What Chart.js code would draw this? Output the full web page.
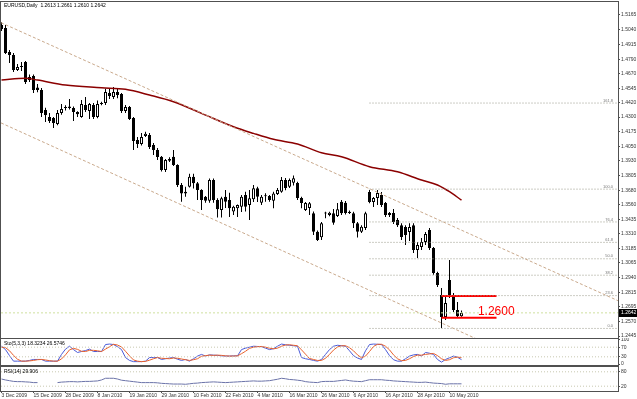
<!DOCTYPE html>
<html>
<head>
<meta charset="utf-8">
<script src="https://cdn.jsdelivr.net/npm/chart.js@4.4.1/dist/chart.umd.min.js"></script>
<style>
  html, body { margin: 0; padding: 0; background: #fff; }
  #wrap { position: relative; width: 637px; height: 399px; overflow: hidden; background: #fff; }
  canvas { position: absolute; left: 0; }
</style>
</head>
<body>
<div id="wrap">
  <canvas id="main" width="637" height="340" style="top:0"></canvas>
  <canvas id="sto" width="637" height="28" style="top:338px"></canvas>
  <canvas id="rsi" width="637" height="33" style="top:366px"></canvas>
</div>
<script>
// EURUSD daily candles, 3 Dec 2009 .. 13 May 2010 (bar index 0..115)
const opens = [1.5080,1.5055,1.4851,1.4826,1.4699,1.4724,1.4767,1.4615,1.4648,1.4550,
  1.4529,1.4360,1.4301,1.4292,1.4241,1.4335,1.4377,1.4377,1.4377,1.4343,
  1.4301,1.4402,1.4352,1.4402,1.4301,1.4419,1.4419,1.4504,1.4470,1.4512,
  1.4496,1.4352,1.4385,1.4292,1.4106,1.4072,1.4140,1.4148,1.4063,1.4021,
  1.3965,1.3852,1.3930,1.3965,1.3894,1.3724,1.3654,1.3711,1.3795,1.3739,
  1.3682,1.3626,1.3592,1.3767,1.3597,1.3513,1.3626,1.3597,1.3500,1.3528,
  1.3541,1.3640,1.3555,1.3604,1.3697,1.3575,1.3630,1.3632,1.3592,1.3648,
  1.3668,1.3767,1.3710,1.3745,1.3741,1.3614,1.3513,1.3530,1.3485,1.3330,
  1.3282,1.3483,1.3470,1.3485,1.3462,1.3584,1.3575,1.3487,1.3485,1.3402,
  1.3330,1.3360,1.3665,1.3580,1.3614,1.3640,1.3572,1.3470,1.3487,1.3428,
  1.3385,1.3369,1.3326,1.3385,1.3175,1.3200,1.3242,1.3343,1.3191,1.2980,
  1.2793,1.2607,1.2920,1.2793,1.2666,1.2613];
const highs = [1.5106,1.5080,1.4868,1.4843,1.4750,1.4767,1.4775,1.4660,1.4660,1.4580,
  1.4546,1.4380,1.4335,1.4300,1.4360,1.4411,1.4400,1.4453,1.4390,1.4350,
  1.4445,1.4470,1.4420,1.4420,1.4440,1.4430,1.4540,1.4540,1.4555,1.4540,
  1.4504,1.4402,1.4395,1.4300,1.4131,1.4165,1.4175,1.4165,1.4080,1.4038,
  1.3970,1.3945,1.3960,1.4021,1.3900,1.3741,1.3710,1.3820,1.3820,1.3750,
  1.3690,1.3632,1.3780,1.3780,1.3612,1.3626,1.3683,1.3660,1.3550,1.3560,
  1.3640,1.3668,1.3683,1.3725,1.3710,1.3640,1.3655,1.3640,1.3668,1.3700,
  1.3792,1.3785,1.3780,1.3805,1.3753,1.3626,1.3580,1.3580,1.3500,1.3340,
  1.3411,1.3499,1.3499,1.3521,1.3572,1.3597,1.3590,1.3510,1.3499,1.3411,
  1.3385,1.3499,1.3682,1.3623,1.3682,1.3665,1.3580,1.3496,1.3521,1.3445,
  1.3402,1.3385,1.3402,1.3402,1.3242,1.3276,1.3326,1.3360,1.3200,1.2990,
  1.2853,1.2779,1.3090,1.2810,1.2734,1.2661];
const lows = [1.5030,1.4835,1.4758,1.4682,1.4690,1.4690,1.4580,1.4597,1.4504,1.4510,
  1.4301,1.4258,1.4250,1.4207,1.4230,1.4320,1.4355,1.4365,1.4267,1.4300,
  1.4295,1.4343,1.4283,1.4284,1.4290,1.4400,1.4402,1.4453,1.4453,1.4460,
  1.4335,1.4335,1.4275,1.4021,1.4038,1.4060,1.4131,1.4030,1.3979,1.3936,
  1.3840,1.3835,1.3920,1.3885,1.3707,1.3584,1.3626,1.3703,1.3695,1.3597,
  1.3513,1.3575,1.3575,1.3575,1.3450,1.3450,1.3530,1.3453,1.3470,1.3453,
  1.3496,1.3500,1.3428,1.3580,1.3580,1.3555,1.3584,1.3584,1.3528,1.3640,
  1.3660,1.3680,1.3700,1.3720,1.3597,1.3528,1.3504,1.3470,1.3301,1.3250,
  1.3259,1.3443,1.3460,1.3389,1.3453,1.3470,1.3475,1.3480,1.3360,1.3280,
  1.3318,1.3343,1.3570,1.3538,1.3555,1.3538,1.3453,1.3453,1.3394,1.3369,
  1.3259,1.3217,1.3250,1.3150,1.3107,1.3175,1.3217,1.3175,1.2965,1.2860,
  1.2514,1.2582,1.2768,1.2649,1.2600,1.2610];
const closes = [1.5046,1.4843,1.4826,1.4699,1.4724,1.4726,1.4597,1.4640,1.4529,1.4529,
  1.4335,1.4318,1.4267,1.4250,1.4335,1.4368,1.4380,1.4390,1.4343,1.4325,
  1.4411,1.4360,1.4411,1.4301,1.4411,1.4411,1.4512,1.4479,1.4512,1.4487,
  1.4352,1.4385,1.4284,1.4097,1.4072,1.4131,1.4160,1.4046,1.4021,1.3962,
  1.3852,1.3937,1.3945,1.3894,1.3724,1.3654,1.3668,1.3795,1.3739,1.3682,
  1.3597,1.3592,1.3767,1.3597,1.3519,1.3612,1.3584,1.3528,1.3541,1.3555,
  1.3626,1.3541,1.3612,1.3697,1.3626,1.3626,1.3634,1.3597,1.3654,1.3682,
  1.3767,1.3700,1.3767,1.3782,1.3614,1.3572,1.3572,1.3570,1.3330,1.3259,
  1.3400,1.3487,1.3490,1.3406,1.3519,1.3485,1.3487,1.3499,1.3402,1.3330,
  1.3372,1.3485,1.3580,1.3614,1.3657,1.3555,1.3470,1.3487,1.3411,1.3385,
  1.3284,1.3301,1.3369,1.3175,1.3217,1.3242,1.3309,1.3191,1.2980,1.2878,
  1.2607,1.2726,1.2793,1.2666,1.2613,1.2642];

// moving average, read at a few bars
const maBars = [0, 6, 9, 16, 25, 31, 37, 43, 50, 58, 63, 68, 74, 80, 85, 92, 99, 105, 109, 112, 115];
const maVals = [1.4614, 1.4629, 1.4614, 1.4572, 1.4549, 1.4535, 1.4487, 1.4430, 1.4332, 1.4218, 1.4162,
  1.4112, 1.4072, 1.3998, 1.3964, 1.3880, 1.3837, 1.3767, 1.3725, 1.3668, 1.3597];

// channel lines: [bar, price] end points
const chanUpper = [[-0.125, 1.5100], [154.125, 1.2745]];
const chanLower = [[-0.125, 1.4251], [154.125, 1.1877]];

// fibonacci retracement
const fibLevels = ['161.8', '100.0', '76.4', '61.8', '50.0', '38.2', '23.6', '0.0'];
const fibPrices = [1.4419, 1.3690, 1.3412, 1.3239, 1.3100, 1.2961, 1.2788, 1.2510];
const fibStart = 92;

// red support / resistance lines
const redPrices = [1.2785, 1.2600];
const redFrom = 110, redTo = 123.75;

// stochastic (5,3,3)
const stoK = [74,60,35,12,12,12,12,15,19,19, 19,12,12,12,12,40,62,74,60,48,
  52,56,62,52,52,52,81,83,81,72, 60,27,15,10,10,10,12,27,27,27,
  19,22,25,27,20,15,19,12,22,33, 40,33,38,37,36,34,33,33,34,34,
  60,66,70,74,73,72,66,60,64,74, 83,80,78,76,74,27,22,19,15,12,
  19,40,60,74,78,76,74,55,35,25, 19,55,81,83,82,81,60,35,18,12,
  12,22,33,38,40,33,48,45,40,19, 8,19,26,33,28,18.3];
const stoD = [70,68,55,36,20,12,12,13,15,18, 19,17,14,12,12,21,38,59,65,61,
  53,52,57,57,55,52,62,72,82,79, 71,53,34,17,12,10,11,16,22,27,
  24,23,22,25,24,21,18,15,18,22, 32,35,37,36,37,36,34,33,33,34,
  43,53,65,70,72,73,70,66,63,66, 74,79,80,78,76,59,41,23,19,15,
  15,24,40,58,71,76,76,68,55,38, 26,33,52,73,82,82,74,59,38,22,
  14,15,22,31,37,37,40,42,44,35, 22,15,18,26,29,26.6];
const stoLevels = [70, 30];
const stoTicks = [0, 30, 70, 100];

// RSI(14)
const rsiVals = [50,46,43,40,39,39,38,37,35,35, null,null,null,null,35,37,38,39,39,38,
  39,40,40,41,42,46,53,53,53,50, 45,43,41,39,37,35,35,35,35,34,
  32,31,30,29,29,29,28,30,32,33, 35,36,37,38,37,36,35,36,37,38,
  39,40,41,42,41,41,42,43,46,49, 53,51,48,47,45,43,39,37,36,35,
  39,40,40,40,42,44,46,43,41,40, 39,43,47,47,47,47,45,44,42,41,
  40,39,38,37,36,36,37,35,33,32, 31,28,30,30,30,29.9];
const rsiLevels = [80, 20];

// axis labels
const priceTicks = [1.5165,1.5040,1.4915,1.4790,1.4670,1.4545,1.4420,1.4300,1.4175,1.4050,1.3930,
  1.3805,1.3680,1.3560,1.3435,1.3310,1.3185,1.3065,1.2940,1.2815,1.2695,1.2570,1.2445];
const dateBars = [0, 8, 16, 24, 32, 40, 48, 56, 64, 72, 80, 88, 96, 104, 112];
const dateLabels = ['3 Dec 2009', '15 Dec 2009', '28 Dec 2009', '8 Jan 2010', '19 Jan 2010', '29 Jan 2010',
  '10 Feb 2010', '22 Feb 2010', '4 Mar 2010', '16 Mar 2010', '26 Mar 2010', '6 Apr 2010',
  '16 Apr 2010', '28 Apr 2010', '10 May 2010'];

const xMin = -0.125, xMax = 154.125;
const FONT = 'Liberation Sans';
const last = closes.length - 1;

function seg(pts, color, width, dash) {
  return {
    type: 'line', data: pts.map(p => ({x: p[0], y: p[1]})),
    borderColor: color, borderWidth: width, borderDash: dash || [],
    pointRadius: 0, fill: false, tension: 0, order: 0
  };
}
function series(vals, color) {
  return {
    data: vals.map((v, i) => ({x: i, y: v})), borderColor: color, borderWidth: 1,
    pointRadius: 0, fill: false, tension: 0, spanGaps: false
  };
}
function xAxis(show) {
  return {
    type: 'linear', min: xMin, max: xMax, offset: false, display: show,
    grid: {display: false}
  };
}
function yAxis(min, max, ticks, fmt) {
  return {
    position: 'right', min: min, max: max,
    afterBuildTicks: s => { s.ticks = ticks.map(v => ({value: v})); },
    afterFit: s => { s.width = 19; s.paddingTop = 0; s.paddingBottom = 0; },
    ticks: {font: {family: FONT, size: 5}, color: '#333', padding: 1, autoSkip: false, callback: fmt},
    grid: {drawOnChartArea: false, tickLength: 2, color: '#505050'},
    border: {display: false}
  };
}

const frame = {
  id: 'frame',
  afterDraw(chart) {
    const {ctx, chartArea: a} = chart;
    ctx.save();
    ctx.strokeStyle = '#505050';
    ctx.lineWidth = 1;
    ctx.strokeRect(Math.round(a.left) - 0.5, Math.round(a.top) - 0.5,
      Math.round(a.right - a.left) + 1, Math.round(a.bottom - a.top) + 1);
    ctx.restore();
  }
};

function caption(text, x, y) {
  return {
    id: 'cap',
    afterDraw(chart) {
      const ctx = chart.ctx;
      ctx.save();
      ctx.font = '5px "' + FONT + '"';
      ctx.fillStyle = '#000';
      ctx.textBaseline = 'top';
      ctx.fillText(text, x, y);
      ctx.restore();
    }
  };
}

const mainText = {
  id: 'mainText',
  afterDraw(chart) {
    const {ctx, chartArea: a, scales: {x, y}} = chart;
    ctx.save();
    ctx.font = '4px "' + FONT + '"';
    ctx.fillStyle = '#777';
    ctx.textAlign = 'right';
    ctx.textBaseline = 'bottom';
    fibLevels.forEach((lv, k) => ctx.fillText(lv, a.right - 5, y.getPixelForValue(fibPrices[k]) - 0.5));

    ctx.font = '12px "' + FONT + '"';
    ctx.fillStyle = '#ff0000';
    ctx.textAlign = 'left';
    ctx.textBaseline = 'middle';
    ctx.fillText(redPrices[1].toFixed(4), x.getPixelForValue(119.1), y.getPixelForValue(1.2652));

    // last price box on the axis
    const py = Math.round(y.getPixelForValue(closes[last]));
    ctx.fillStyle = '#000';
    ctx.fillRect(a.right + 1, py - 4, 637 - a.right - 1, 8);
    ctx.font = '5px "' + FONT + '"';
    ctx.fillStyle = '#fff';
    ctx.textAlign = 'left';
    ctx.fillText(closes[last].toFixed(4), a.right + 3, py);
    ctx.restore();
  }
};

const common = {
  responsive: false, animation: false,
  layout: {autoPadding: false},
  plugins: {legend: {display: false}, tooltip: {enabled: false}}
};

const mainSets = [
  seg(chanUpper, '#c9a98c', 1, [3, 2]),
  seg(chanLower, '#c9a98c', 1, [3, 2]),
  seg([[xMin, closes[last]], [xMax, closes[last]]], '#cfe0a0', 1, [2, 2])
];
fibPrices.forEach(p => mainSets.push(seg([[fibStart, p], [xMax, p]], '#9a9a8a', 1, [1, 2])));
redPrices.forEach(p => mainSets.push(seg([[redFrom, p], [redTo, p]], '#ff0000', 2)));
mainSets.push(Object.assign(seg(maBars.map((b, k) => [b, maVals[k]]), '#8b0000', 1.5),
  {cubicInterpolationMode: 'monotone'}));
mainSets.push({
  type: 'bar', data: opens.map((o, i) => ({x: i, y: [o, closes[i]]})),
  backgroundColor: opens.map((o, i) => closes[i] >= o ? '#ffffff' : '#000000'),
  borderColor: '#000', borderWidth: 1, borderSkipped: false, minBarLength: 1,
  barThickness: 3, grouped: false, inflateAmount: 0, order: 1
});
mainSets.push({
  type: 'bar', data: lows.map((l, i) => ({x: i, y: [l, highs[i]]})),
  backgroundColor: '#000', borderWidth: 0, barThickness: 1, grouped: false,
  inflateAmount: 0, order: 2
});

new Chart(document.getElementById('main'), {
  type: 'bar',
  data: {datasets: mainSets},
  options: Object.assign({}, common, {
    layout: {autoPadding: false, padding: {top: 2, left: 1, right: 0, bottom: 2}},
    scales: {
      x: xAxis(false),
      y: yAxis(1.2429, 1.5275, priceTicks, v => v.toFixed(4))
    }
  }),
  plugins: [frame, mainText, caption('EURUSD,Daily  1.2613 1.2661 1.2610 1.2642', 4, 3)]
});

const stoSets = stoLevels.map(l => seg([[xMin, l], [xMax, l]], '#c8c8b0', 1, [1, 2]));
stoSets.push(series(stoD, '#e8602c'));
stoSets.push(series(stoK, '#4a5ad8'));
new Chart(document.getElementById('sto'), {
  type: 'line',
  data: {datasets: stoSets},
  options: Object.assign({}, common, {
    layout: {autoPadding: false, padding: {top: 1, left: 1, right: 0, bottom: 1}},
    scales: {x: xAxis(false), y: yAxis(-4, 104, stoTicks, v => String(v))}
  }),
  plugins: [frame, caption('Sto(5,3,3) 18.3234 26.5746', 4, 3)]
});

const rsiSets = rsiLevels.map(l => seg([[xMin, l], [xMax, l]], '#c8c8b0', 1, [1, 2]));
rsiSets.push(series(rsiVals, '#6b73a8'));
const rsiX = xAxis(true);
rsiX.afterBuildTicks = s => { s.ticks = dateBars.map(v => ({value: v})); };
rsiX.afterFit = s => { s.height = 8; s.paddingLeft = 0; s.paddingRight = 0; };
rsiX.ticks = {font: {family: FONT, size: 5}, color: '#333', padding: 0, align: 'start',
  maxRotation: 0, autoSkip: false, callback: (v, i) => dateLabels[i]};
rsiX.grid = {display: true, drawOnChartArea: false, tickLength: 2, color: '#505050'};
rsiX.border = {display: false};
new Chart(document.getElementById('rsi'), {
  type: 'line',
  data: {datasets: rsiSets},
  options: Object.assign({}, common, {
    layout: {autoPadding: false, padding: {top: 1, left: 1, right: 0, bottom: 0}},
    scales: {x: rsiX, y: yAxis(0, 100, rsiLevels, v => String(v))}
  }),
  plugins: [frame, caption('RSI(14) 29.906', 4, 3)]
});
</script>
</body>
</html>
